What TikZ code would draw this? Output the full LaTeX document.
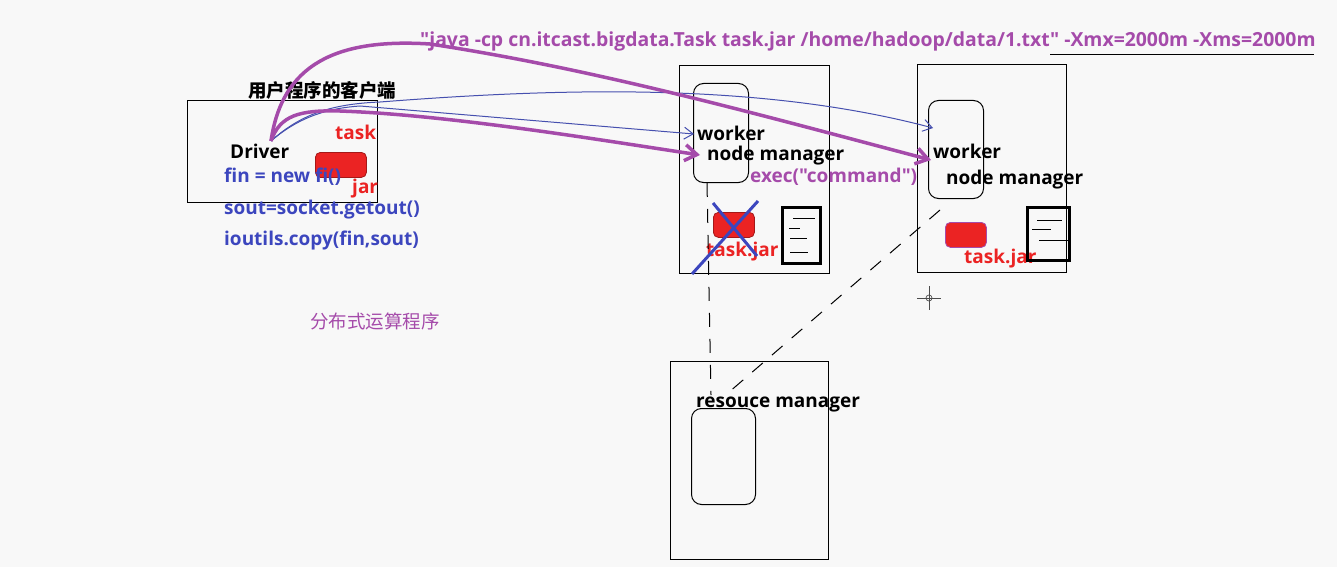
\documentclass[tikz,border=0pt]{standalone}
\usepackage{fontspec}
\setmainfont{Open Sans}
\newfontfamily\plain{Open Sans}
\newfontfamily\cjk{Noto Sans CJK SC}
\usetikzlibrary{arrows.meta}
\definecolor{ycBg}{RGB}{248, 248, 248}
\definecolor{ycPurple}{RGB}{165, 75, 170}
\definecolor{ycBlue}{RGB}{60, 70, 190}
\definecolor{ycRed}{RGB}{235, 35, 35}
\definecolor{ycLine}{RGB}{70, 80, 175}
\tikzset{
    base/.style={
        font=\fontsize{19}{21}\selectfont\bfseries,
        inner sep=0pt,
        anchor=west
    },
    host/.style={
        draw=black,
        line width=1.2pt,
        anchor=north west,
        inner sep=0pt
    },
    pane/.style={
        draw=black,
        line width=1pt,
        rounded corners=10pt,
        anchor=north west,
        inner sep=0pt
    },
    jarbox/.style={
        draw=ycRed!70!black,
        fill=ycRed,
        line width=0.8pt,
        rounded corners=5pt,
        anchor=north west,
        inner sep=0pt
    },
    doc/.style={
        draw=black,
        line width=3pt,
        anchor=north west,
        inner sep=0pt
    },
    code/.style={
        base,
        text=ycBlue
    },
    call/.style={
        line width=3.5pt,
        color=ycPurple,
        -{Straight Barb[length=12pt, width=16pt]}
    },
    flow/.style={
        line width=1pt,
        color=ycLine,
        -{Straight Barb[length=9pt, width=12pt]}
    },
    link/.style={
        line width=1pt,
        dash pattern=on 14pt off 12pt
    }
}

\begin{document}
\begin{tikzpicture}[x=1pt, y=-1pt]
  \fill[ycBg] (0,0) rectangle (1337,567);

  % Client
  \node[host, minimum width=190pt, minimum height=102pt] (client) at (187,100) {};
  \node[font=\cjk\fontsize{18.5}{20}\selectfont\bfseries, inner sep=0pt] (clientttl) at (322,90) {用户程序的客户端};
  \node[base] (driver) at (230,151) {Driver};
  \node[base, text=ycRed] (tasklbl) at (335,132) {task};
  \node[jarbox, minimum width=51pt, minimum height=25pt] (jar) at (315,152) {};
  \node[base, text=ycRed] (jarlbl) at (352,189) {jar};
  \node[code] (fin) at (224,177) {fin = new fi()};
  \node[code] (sout) at (224,210) {sout=socket.getout()};
  \node[code] (copy) at (224,241) {ioutils.copy(fin,sout)};
  \node[base, font=\cjk\fontsize{18.5}{20}\selectfont, text=ycPurple] (prog) at (310,321) {分布式运算程序};

  % Command line
  \node[base, font=\plain\fontsize{19.4}{21}\selectfont\bfseries, text=ycPurple] (cmd) at (420,41) {"java -cp cn.itcast.bigdata.Task task.jar /home/hadoop/data/1.txt" -Xmx=2000m -Xms=2000m};
  \draw[line width=1pt] (1050,55) -- (1314,55);

  % Worker 1
  \node[host, minimum width=150pt, minimum height=208pt] (w1) at (679,65) {};
  \node[pane, minimum width=55pt, minimum height=99pt] (w1pane) at (693,83) {};
  \node[base] (w1wk) at (697,133) {worker};
  \node[base] (w1nm) at (707,156) {node manager};
  \node[base, font=\plain\fontsize{19}{21}\selectfont\bfseries, text=ycPurple] (exec) at (750,177) {exec("command")};
  \node[jarbox, minimum width=41pt, minimum height=25pt] (w1jar) at (713,212) {};
  \node[base, text=ycRed] (w1jarlbl) at (706,252) {task.jar};
  \node[doc, minimum width=38pt, minimum height=56pt] (w1doc) at (781,206) {};
  \draw[line width=1pt] (793,218) -- (815,218) (789,228) -- (800,228)
    (790,238) -- (807,238) (790,252) -- (808,252);
  \draw[ycBlue, line width=3pt] (692,274) -- (758,201) (713,203) -- (757,256);

  % Worker 2
  \node[host, minimum width=149pt, minimum height=208pt] (w2) at (917,64) {};
  \node[pane, minimum width=55pt, minimum height=98pt] (w2pane) at (928,100) {};
  \node[base] (w2wk) at (933,151) {worker};
  \node[base] (w2nm) at (946,180) {node manager};
  \node[jarbox, draw=ycPurple, minimum width=41pt, minimum height=25pt] (w2jar) at (945,222) {};
  \node[base, text=ycRed] (w2jarlbl) at (964,259) {task.jar};
  \node[doc, minimum width=42pt, minimum height=53pt] (w2doc) at (1026,206) {};
  \draw[line width=1pt] (1037,220) -- (1062,220) (1032,229) -- (1051,229)
    (1039,240) -- (1070,240);

  % Cursor
  \node[draw=black!70, circle, minimum size=6pt, inner sep=0pt, line width=0.7pt] (cursor) at (929,298) {};
  \draw[black!70, line width=0.8pt] (917,298) -- (941,298) (929,286) -- (929,310);

  % Resource manager
  \node[host, minimum width=158pt, minimum height=198pt] (rm) at (670,361) {};
  \node[pane, minimum width=64pt, minimum height=96pt] (rmpane) at (691,408) {};
  \node[base] (rmlbl) at (696,404) {resouce manager};

  % Heartbeats
  \coordinate (w1foot) at (707,183);
  \coordinate (w2foot) at (940,210);
  \coordinate (rmtop1) at (711,395);
  \coordinate (rmtop2) at (728,393);
  \draw[link] (w1foot) -- (rmtop1);
  \draw[link] (w2foot) -- (rmtop2);

  % Submissions
  \coordinate (tip) at (271,141);
  \coordinate (w1in) at (700,155);
  \coordinate (w2in) at (931,160);
  \coordinate (w1wkin) at (694,134);
  \coordinate (w2wkin) at (933,128);
  \draw[flow] (tip) .. controls (300,115) and (330,104) .. (380,102)
    .. controls (560,88) and (760,82) .. (w2wkin);
  \draw[flow] (tip) .. controls (300,116) and (330,108) .. (360,106) -- (w1wkin);
  \draw[call] (tip) .. controls (282,65) and (335,38) .. (430,44)
    .. controls (600,70) and (760,115) .. (w2in);
  \draw[call] (tip) .. controls (280,115) and (300,110) .. (340,111)
    .. controls (450,115) and (600,140) .. (w1in);
\end{tikzpicture}
\end{document}
